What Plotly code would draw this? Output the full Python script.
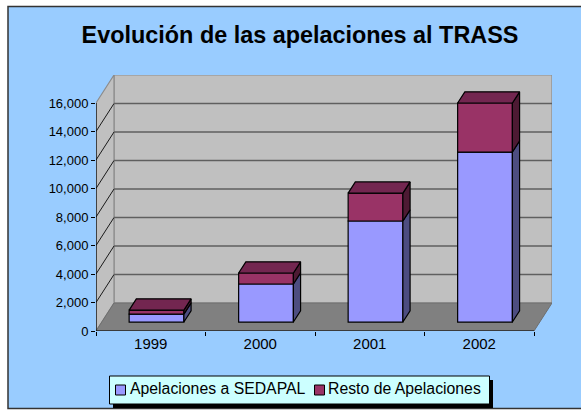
import plotly.graph_objects as go

years = ["1999", "2000", "2001", "2002"]
sedapal = [560, 2670, 7090, 11930]
resto = [280, 770, 1960, 3440]
y_ticks = [0, 2000, 4000, 6000, 8000, 10000, 12000, 14000, 16000]
y_labels = ["0", "2,000", "4,000", "6,000", "8,000", "10,000", "12,000", "14,000", "16,000"]
series_names = ["Apelaciones a SEDAPAL", "Resto de Apelaciones"]

W, H = 581, 410
L, R, T, B = 96, 552, 75, 331
PX_X = 109.5        # pixels per category
PX_Y = 0.01425      # pixels per value unit
WALL_DX = 18 / PX_X
WALL_DY = 28 / PX_Y
BAR_F0, BAR_F1 = 0.32, 0.72
BAR_W = 0.5
X0, X1 = -0.5, 3.5
YMAX = 16000

WALL, FLOOR, GRID = "#C0C0C0", "#808080", "#5F5F5F"
front = ["#9999FF", "#993366"]
side = ["#4D4D80", "#4D1A33"]
top_col = "#732650"
BG = "#99CCFF"


def px(x):
    return (x - L) / (R - L)


def py(y):
    return (B - y) / (B - T)


def poly(points):
    d = "M" + "L".join(f"{a},{b}" for a, b in points) + "Z"
    return d


shapes = []
# outer frame and legend box (paper coordinates)
shapes.append(dict(type="rect", xref="paper", yref="paper", x0=px(8), x1=px(600), y0=py(6.5), y1=py(408.5),
                   fillcolor=BG, line=dict(color="#333333", width=1.5), layer="below"))
shapes.append(dict(type="rect", xref="paper", yref="paper", x0=px(113), x1=px(493), y0=py(380), y1=py(408),
                   fillcolor="black", line=dict(width=0), layer="below"))
shapes.append(dict(type="rect", xref="paper", yref="paper", x0=px(109.5), x1=px(489.5), y0=py(376), y1=py(404),
                   fillcolor="#CCFFFF", line=dict(color="black", width=1), layer="below"))
# walls and floor
shapes.append(dict(type="path", xref="x", yref="y", layer="below", fillcolor=WALL,
                   line=dict(color="#8C8C8C", width=1.2),
                   path=poly([(X0 + WALL_DX, WALL_DY), (X1 + WALL_DX, WALL_DY),
                              (X1 + WALL_DX, YMAX + WALL_DY), (X0 + WALL_DX, YMAX + WALL_DY)])))
shapes.append(dict(type="path", xref="x", yref="y", layer="below", fillcolor=WALL,
                   line=dict(color="#8C8C8C", width=1.2),
                   path=poly([(X0, 0), (X0 + WALL_DX, WALL_DY), (X0 + WALL_DX, YMAX + WALL_DY), (X0, YMAX)])))
shapes.append(dict(type="path", xref="x", yref="y", layer="below", fillcolor=FLOOR,
                   line=dict(color="#6E6E6E", width=1),
                   path=poly([(X0, 0), (X1, 0), (X1 + WALL_DX, WALL_DY), (X0 + WALL_DX, WALL_DY)])))
# gridlines
for v in y_ticks[1:-1]:
    shapes.append(dict(type="line", xref="x", yref="y", layer="below", x0=X0, y0=v,
                       x1=X0 + WALL_DX, y1=v + WALL_DY, line=dict(color="#1A1A1A", width=1)))
    shapes.append(dict(type="line", xref="x", yref="y", layer="below", x0=X0 + WALL_DX, y0=v + WALL_DY,
                       x1=X1 + WALL_DX, y1=v + WALL_DY, line=dict(color=GRID, width=1.5)))
# axis lines
shapes.append(dict(type="line", xref="x", yref="y", layer="above", x0=X0, y0=0, x1=X0, y1=YMAX,
                   line=dict(color="black", width=1.2)))
shapes.append(dict(type="line", xref="x", yref="y", layer="above", x0=X0, y0=0, x1=X1, y1=0,
                   line=dict(color="black", width=1.2)))

fig = go.Figure()
positions = list(range(len(years)))
base0 = BAR_F0 * WALL_DY
shift0 = BAR_F0 * WALL_DX
dx = (BAR_F1 - BAR_F0) * WALL_DX
dy = (BAR_F1 - BAR_F0) * WALL_DY

bottoms = [[base0] * 4, [base0 + s for s in sedapal]]
values = [sedapal, resto]
for k, vals in enumerate(values):
    fig.add_trace(go.Bar(x=[p + shift0 for p in positions], y=vals, base=bottoms[k], width=BAR_W,
                         name=series_names[k], marker=dict(color=front[k], line=dict(color="black", width=1.2)),
                         showlegend=False, hoverinfo="skip"))
    sx, sy = [], []
    for p, v, b in zip(positions, vals, bottoms[k]):
        xr = p + shift0 + BAR_W / 2
        sx += [xr, xr + dx, xr + dx, xr, xr, None]
        sy += [b, b + dy, b + v + dy, b + v, b, None]
    fig.add_trace(go.Scatter(x=sx, y=sy, mode="lines", fill="toself", fillcolor=side[k],
                             line=dict(color="black", width=1.2), showlegend=False, hoverinfo="skip"))

tx, ty = [], []
for p, a, b in zip(positions, sedapal, resto):
    xl = p + shift0 - BAR_W / 2
    xr = xl + BAR_W
    t = base0 + a + b
    tx += [xl, xr, xr + dx, xl + dx, xl, None]
    ty += [t, t, t + dy, t + dy, t, None]
fig.add_trace(go.Scatter(x=tx, y=ty, mode="lines", fill="toself", fillcolor=top_col,
                         line=dict(color="black", width=1.2), showlegend=False, hoverinfo="skip"))

FONT = "Liberation Sans, Arial, sans-serif"

# legend entries: swatch left edge and text left edge
legend_swatch_px = [115.5, 314.5]
legend_text_px = [129, 327]
annotations = []
for k, name in enumerate(series_names):
    shapes.append(dict(type="rect", xref="paper", yref="paper", x0=px(legend_swatch_px[k]),
                       x1=px(legend_swatch_px[k] + 10), y0=py(385), y1=py(395),
                       fillcolor=front[k], line=dict(color="black", width=1), layer="below"))
    annotations.append(dict(text=name, xref="paper", yref="paper", x=px(legend_text_px[k]), y=py(388),
                            xanchor="left", yanchor="middle", showarrow=False, xshift=-1,
                            font=dict(size=15.8, family=FONT, color="black")))

fig.update_layout(
    width=W, height=H, autosize=False,
    margin=dict(l=L, r=W - R, t=T, b=H - B, pad=0, autoexpand=False),
    paper_bgcolor="white", plot_bgcolor="rgba(0,0,0,0)",
    barmode="overlay", shapes=shapes, annotations=annotations, hovermode=False, showlegend=False,
    font=dict(family=FONT, size=13, color="black"),
    title=dict(text="<b>Evolución de las apelaciones al TRASS</b>", font=dict(size=23.4, family=FONT, color="black"),
               xref="container", yref="container", x=300 / W, xanchor="center", y=1 - 35 / H, yanchor="middle"),
    xaxis=dict(range=[X0, X0 + (R - L) / PX_X], tickvals=positions, ticktext=years, ticks="", showgrid=False,
               zeroline=False, showline=False, tickfont=dict(size=15, color="black"), ticklabelstandoff=2,
               minor=dict(tickvals=[-0.5, 0.5, 1.5, 2.5, 3.5], ticks="outside", ticklen=4, tickcolor="black",
                          tickwidth=1, showgrid=False)),
    yaxis=dict(range=[0, (B - T) / PX_Y], tickvals=y_ticks, ticktext=y_labels, ticks="outside", ticklen=4,
               tickcolor="black", tickwidth=1, showgrid=False, zeroline=False, showline=False,
               tickfont=dict(size=13, color="black")),
)

fig.write_html("out.html", config={"displayModeBar": False},
               post_script="document.body.style.margin='0';document.body.style.overflow='hidden';")
